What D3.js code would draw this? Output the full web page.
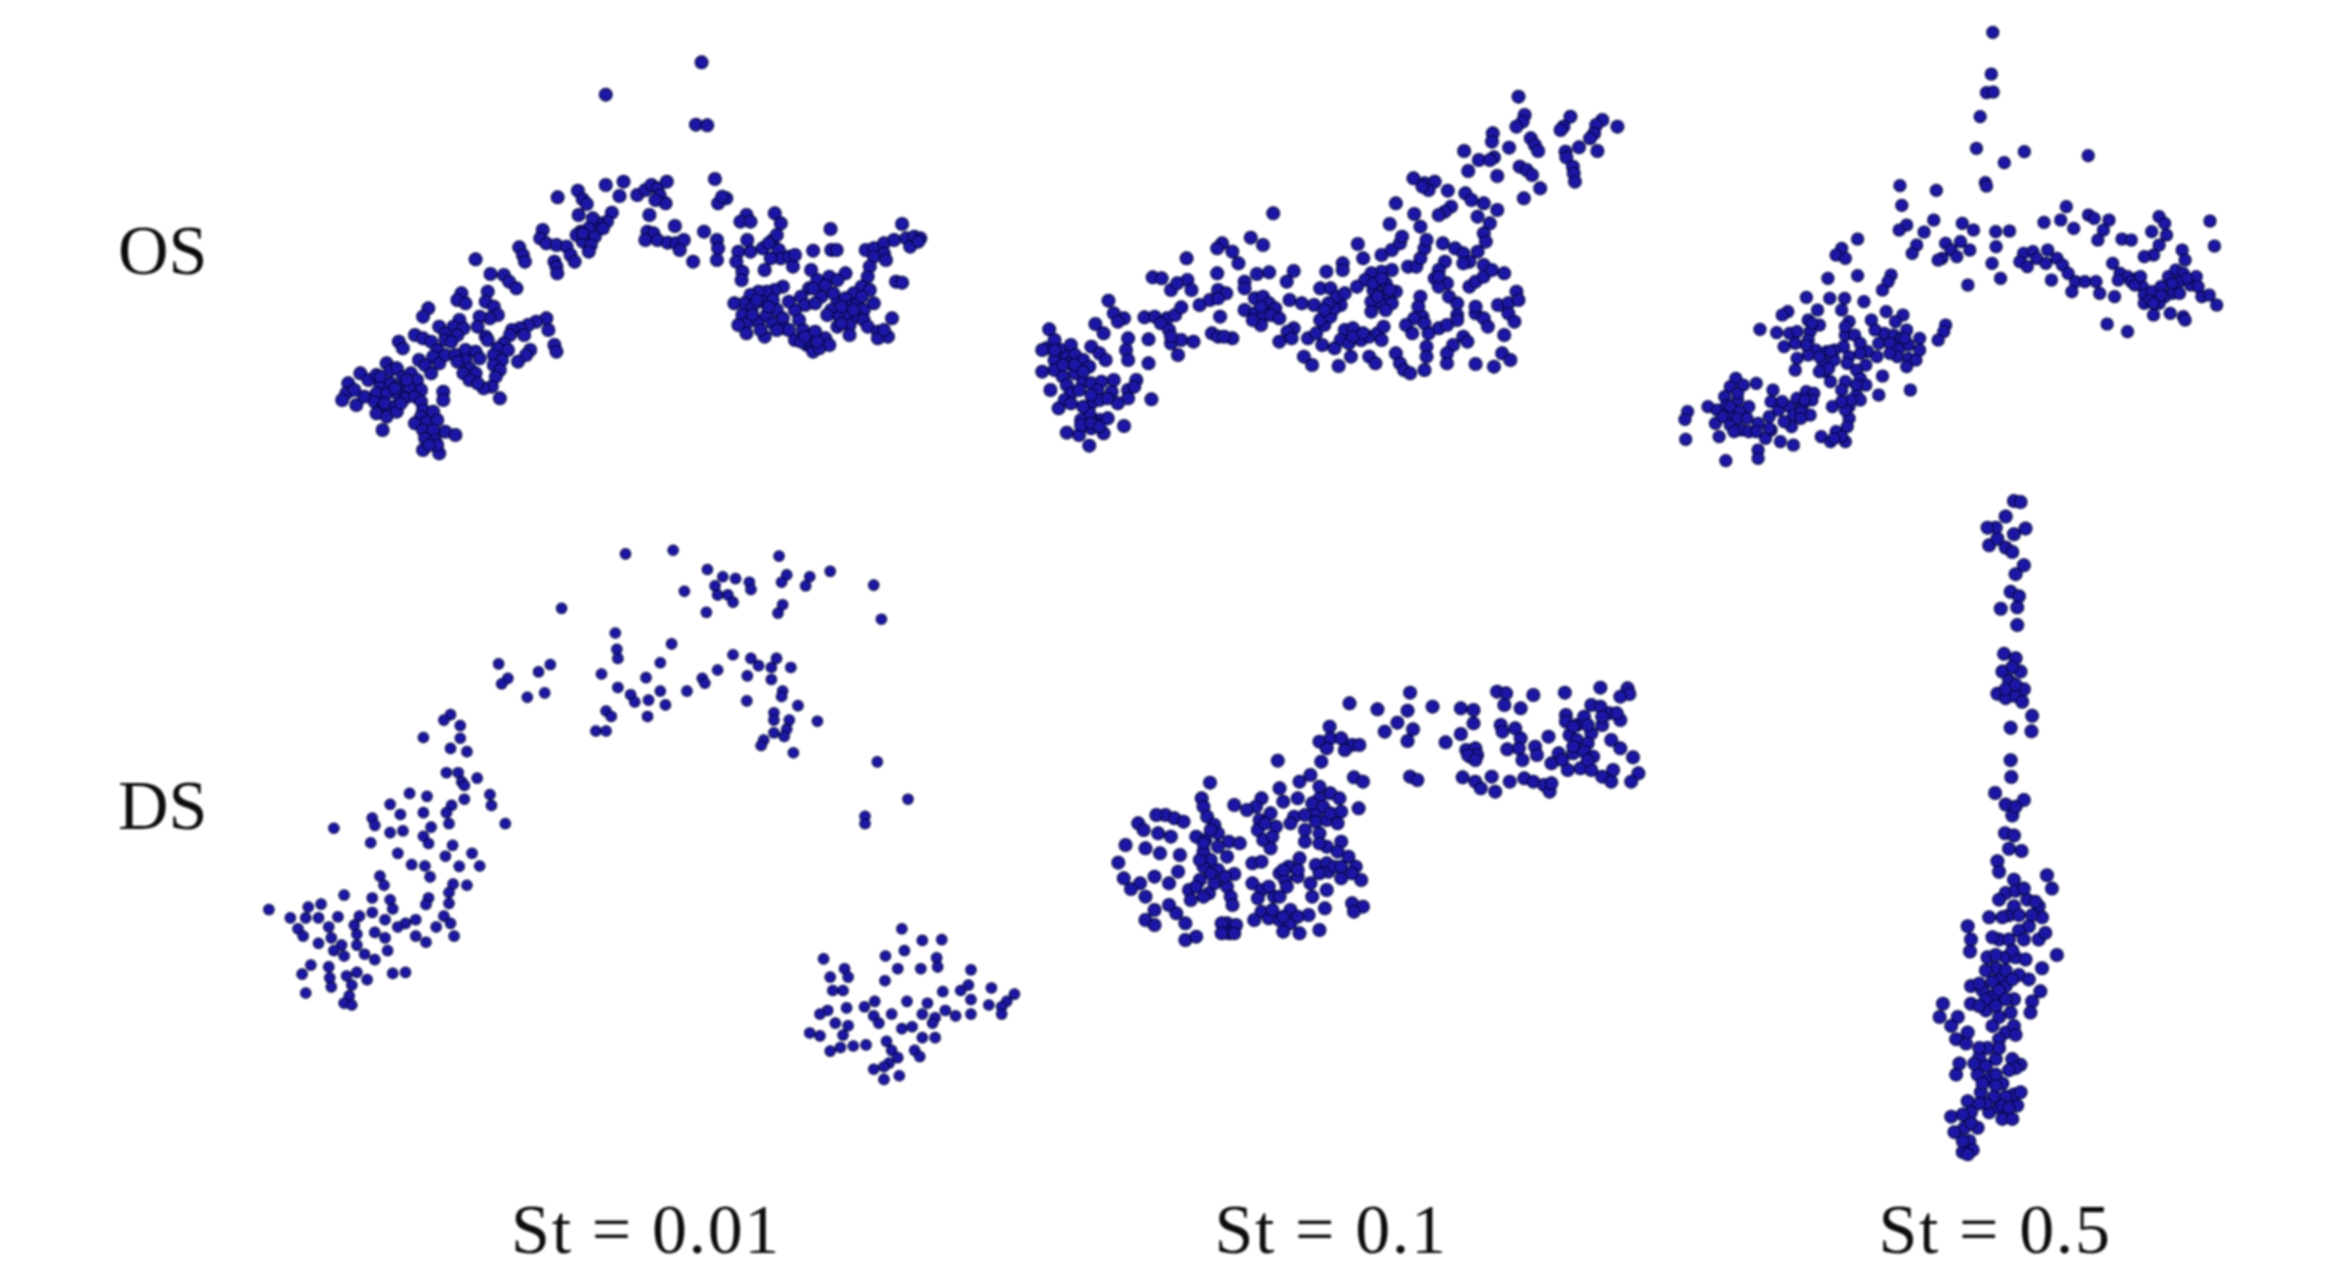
<!DOCTYPE html>
<html>
<head>
<meta charset="utf-8">
<title>St panels</title>
<style>
  html, body { margin: 0; background: #fff; }
  svg { display: block; }
  text { font-family: "Liberation Serif", serif; fill: #111; }
</style>
<script src="https://cdnjs.cloudflare.com/ajax/libs/d3/7.8.5/d3.min.js"></script>
</head>
<body>
<svg id="chart" width="2332" height="1282"></svg>
<script>
const rowLabels = ['OS', 'DS'];
const colLabels = ['St = 0.01', 'St = 0.1', 'St = 0.5'];

// particle positions, in picture units per panel
const os001 = [[934,67],[697,164],[920,254],[948,256],[967,417],[975,490],[995,475],[985,470],
[578,472],[628,452],[640,478],[650,492],[630,525],[697,435],[741,425],[731,468],[712,518],[700,545],[680,550],[665,535],[690,565],[655,565],[635,575],[625,585],[650,598],[670,590],[640,605],[660,615],[655,635],[640,580],
[541,570],[535,595],[550,610],[575,615],[600,620],[610,645],[620,665],[570,665],[575,680],[577,700],[483,622],[492,645],[497,665],[375,658],[412,702],[445,705],[458,725],[476,745],
[775,465],[795,450],[810,435],[825,445],[848,425],[830,465],[845,490],[820,480],[805,525],[868,558],[800,575],[815,580],[795,600],[825,600],[850,608],[870,610],[890,600],[880,630],[913,665],[940,575],[972,600],[975,625],[972,660],
[1045,525],[1030,545],[1055,545],[1115,520],[1130,550],[1253,567],[1430,552],[1210,632],[1255,630],[1268,630],
[1047,600],[1025,635],[1055,635],[1085,625],[1110,600],[1120,585],[1100,610],[1125,630],[1130,655],[1105,655],[1150,650],[1165,645],[1160,680],[1090,690],[1020,665],[1035,695],[1033,720],
[1340,630],[1360,625],[1385,610],[1410,600],[1440,595],[1460,590],[1475,595],[1450,620],[1470,605],[1385,640],[1390,660],[1360,650],[1350,680],[1205,690],[1415,725],[1430,728],
[1250,710],[1290,700],[1220,720],[1240,735],[1270,720],[1345,710],[1330,740],[1310,760],[1350,750],[1200,745],[1180,770],[1190,795],[1135,740],[1115,750],[1095,755],[1075,755],[1055,765],[1040,790],[1015,790],[1060,800],[1085,785],[1110,780],[1120,810],[1035,825],[1050,845],[1025,855],[1045,880],[1075,845],[1095,825],[1110,850],[1090,890],[1135,835],[1140,865],[1165,810],[1175,840],[1165,900],[1185,870],[1215,875],[1240,895],[1250,915],[1195,915],[1210,935],[1190,905],[1225,925],[1270,785],[1290,775],[1255,810],[1275,830],[1245,825],[1300,800],[1320,790],[1335,810],[1360,790],[1300,825],[1320,830],[1335,840],[1270,860],[1300,855],[1300,885],[1345,860],[1370,875],[1395,890],[1370,895],[1385,870],[1405,835],[1230,770],[1215,790],
[1070,780],[1100,800],[1060,825],[1080,870],[1120,870],[1150,870],[1180,905],[1150,785],[1260,760],[1280,800],[1310,810],[1280,850],[1330,770],[1210,745],[1190,890],[1220,905],
[258,805],[245,830],[340,760],[330,780],[350,790],[405,755],[400,785],[420,800],[430,825],[410,835],[385,830],[380,860],[400,890],[405,900],[335,840],[320,860],[345,865],[285,860],[300,880],[225,885],[245,895],[265,905],[185,905],[195,925],[280,930],[300,900],[330,885],[315,905],[270,950],[285,970],[300,945],
[550,835],[525,845],[505,855],[485,865],[465,870],[495,885],[460,885],[555,870],[445,910],[430,925],[420,945],[455,930],[570,915],[575,935],[510,930],[500,945],[480,965],[440,960],[420,975],[435,990],[425,1010],[415,1040],[395,1045],[435,1075],[325,945],[350,930],[375,935],[385,955],[350,960],[330,965],[360,985],[375,1000],[345,1000],[360,1020],[380,1030],
[60,1030],[90,1000],[55,1060],[75,1050],[45,1080],[80,1095],[100,1070],[110,1020],[130,1005],[155,970],[140,1035],[165,990],[180,985],[195,1010],[215,1000],[235,960],[250,975],[230,1020],[265,1000],[165,1030],[190,1045],[210,1040],[240,1050],[130,1060],[155,1060],[185,1065],[200,1075],[225,1070],[125,1085],[145,1100],[175,1100],[130,1120],[155,1130],[180,1115],[145,1170],
[140,1010],[205,1020],[175,1045],[150,1090],[190,1090],[260,1150],[250,1125],[265,1200],
[295,1055],[295,1080],[240,1085],[245,1110],[270,1115],[240,1130],[225,1150],[255,1145],[280,1140],[245,1170],[270,1170],[300,1175],[325,1185],[250,1195],[275,1200],[245,1230],[285,1240],[280,1215],[260,1215]];

const os01 = [[1195,80],[1210,135],[1205,155],[1190,170],[1322,140],[1305,170],[1298,180],[1400,150],[1385,165],[1437,170],[1380,190],[1370,205],[1132,190],[1130,215],[1172,233],[1225,205],[1235,225],[1243,243],[1062,243],[1098,270],[1135,262],[1125,270],[1343,232],[1310,245],[1312,262],[1388,243],[1072,303],[1143,318],[1198,290],[1215,300],[1228,315],[1328,290],[1330,310],[1333,335],[1248,355],[1208,385],
[938,325],[965,340],[990,335],[975,360],[960,350],[1022,362],[1065,370],[1080,390],[1110,400],[1143,420],[895,400],[1030,410],[1015,425],[1000,435],[940,432],[880,462],[955,470],[1095,440],[1125,460],[1110,490],[1115,515],[1095,545],
[595,430],[540,503],[570,525],[470,520],[458,535],[495,545],[510,580],[383,565],[300,622],[322,625],[458,610],[385,630],[395,660],[345,660],[360,640],[525,635],[525,655],[555,612],[585,607],[645,603],[628,635],[635,690],
[192,692],[205,730],[230,745],[215,755],[280,742],[305,740],[335,745],[355,735],[370,712],[320,760],[340,780],[415,705],[440,690],[460,660],[480,670],[460,685],[465,740],[445,790],[460,800],[495,805],[475,800],
[160,762],[180,790],[240,805],[235,840],[240,870],[290,808],[290,880],[345,820],[370,810],[400,815],[362,855],[345,800],
[47,778],[60,810],[40,835],[30,840],[100,825],[150,830],[170,850],[75,840],[90,860],[110,855],[60,870],[95,880],[130,870],[145,890],[185,870],[30,905],[60,900],[80,920],[110,910],[130,935],[150,940],[175,935],[205,930],[50,960],[90,945],[100,970],[120,960],[85,990],[70,1015],[165,960],[200,965],[240,960],[260,930],[255,950],[240,985],[215,1000],[150,1000],[170,990],[190,985],[297,988],[145,1030],[125,1050],[170,1050],[190,1045],[230,1068],[90,1088],[120,1095],[150,1075],[180,1090],[145,1127],[125,1065],[160,1060],
[60,840],[80,885],[110,885],[130,905],[150,975],[100,1000],[130,1010],[150,1060],[170,1070],
[550,685],[570,680],[585,700],[600,715],[525,720],[550,730],[570,740],[590,735],[610,745],[565,765],[545,750],[565,710],
[645,775],[630,785],[610,815],[640,805],[680,805],[700,790],[715,825],[670,860],[690,885],[665,700],[695,705],[710,655],[735,655],[720,765],[710,750],[735,740],[760,705],[750,680],[770,670],[725,605],[765,580],[765,600],[745,715],[770,780],[790,775],[760,810],[745,835],[780,820],[755,888],[785,860],[810,810],[830,800],[850,790],[865,770],[860,810],[830,860],[845,880],
[730,700],[720,720],[790,800],[815,790],
[802,522],[815,565],[860,555],[885,540],[905,520],[910,500],[925,590],[945,590],[955,565],[965,535],[970,510],[885,600],[860,605],[835,610],[820,630],[800,650],[850,635],[870,640],[895,665],[840,660],[865,675],[835,695],[860,700],[885,700],[835,725],
[840,640],[860,625],[880,660],[850,680],[870,720],
[1010,520],[1040,535],[1060,550],[1075,575],[1060,580],[1015,575],[1000,600],[990,625],[1020,640],[1000,650],[1025,680],[1045,700],[1075,650],[1090,635],[1110,620],[1110,585],[1130,600],[1160,610],[955,680],[950,710],[960,740],[940,745],[920,765],[935,790],[965,760],[1000,775],[975,790],[1045,735],[1045,750],[1020,765],[970,830],[970,860],[965,900],[895,850],[905,880],[915,900],[930,910],[1090,730],[1110,745],[1120,770],[1090,710],[1145,705],[1170,700],[1190,665],[1195,690],[1170,730],[1185,755],[1160,795],[1060,800],[1035,825],[1020,850],[1020,880],[1090,882],[1135,890],[1155,850],[1175,870],[1070,815],[1000,620]];

const os05 = [[837,67],[833,192],[820,248],[838,246],[803,320],[793,415],[922,425],[868,458],[1094,437],[817,518],[820,528],[587,527],[685,541],[592,586],[605,645],[585,660],[678,630],[652,666],[632,705],[620,730],[755,640],[785,660],[845,665],[882,663],[846,710],[835,760],[858,805],[770,825],[710,700],[725,720],[700,745],[690,750],[740,740],[750,695],[775,720],[975,637],[1035,590],[1020,630],[1055,655],[1095,615],[1110,625],[1150,630],[1135,660],[1120,690],[1185,687],[1210,690],[1285,620],[1300,640],[1265,665],[1305,675],[1285,705],[1270,735],[1245,740],[1422,633],[1434,708],[1347,720],[1355,750],
[920,730],[945,725],[985,720],[910,755],[930,770],[955,745],[980,760],[1010,745],[1025,765],[1040,790],[995,810],[1060,815],[1050,845],[1085,815],[1115,815],[1125,850],[1165,860],[1160,760],[1180,790],[1200,800],[1175,810],[1225,805],[1240,830],[1210,815],[1245,855],[1265,845],[1290,830],[1310,800],[1330,780],[1350,790],[1385,800],[1370,825],[1340,815],[1320,850],[1300,860],[1245,880],[1270,915],[1285,880],[1315,910],[1350,920],[1355,930],[1400,860],[1420,855],[1440,885],[1145,942],[1200,965],
[1220,825],[1260,870],[1290,855],[1320,820],[1360,805],[1340,850],[1235,800],[1390,830],[1270,880],
[473,687],[430,715],[415,735],[440,745],[393,805],[473,797],[563,795],[555,815],[540,840],[335,862],[398,865],[438,865],[490,875],[430,900],
[285,905],[270,915],[365,900],[340,930],[370,945],[450,935],[510,930],[550,905],[595,915],[575,935],[210,958],[255,968],[290,970],[345,965],[340,990],[275,1010],[305,1000],[440,975],[465,975],[545,970],[570,975],[605,960],[640,985],[710,945],[705,965],[690,990],
[480,1000],[435,1010],[410,1020],[390,1025],[360,1020],[340,1035],[310,1045],[305,1080],[380,1060],[410,1050],[500,1025],[525,1040],[560,1000],[585,1015],[610,1005],[580,1040],[610,1045],[630,1050],[605,1070],[385,1085],[400,1115],[495,1065],[470,1080],[480,1105],[495,1125],[440,1115],[430,1140],[540,1098],[615,1140],[530,1155],[470,1155],[480,1170],[450,1190],[405,1190],[450,1225],[445,1250],
[400,1025],[370,1040],[335,1005],[395,1075],[370,1085],[450,1040],[480,1030],[445,1060],[520,960],[530,1000],[560,1030],[590,985],[600,985],[640,1020],[470,1125],[455,1170],[440,1200],[430,1175],[350,940],[310,965],[440,950],
[145,1105],[130,1130],[165,1125],[200,1120],[115,1160],[150,1170],[180,1190],[245,1140],[240,1175],[70,1190],[95,1200],[125,1210],[90,1240],[130,1245],[100,1280],[160,1260],[180,1265],[205,1240],[235,1220],[260,1200],[290,1190],[310,1165],[335,1145],[355,1150],[325,1185],[350,1170],[300,1215],[345,1215],[295,1250],[240,1260],[225,1285],[265,1295],[300,1305],[205,1320],[205,1345],[118,1352],[235,1255],
[150,1150],[120,1185],[130,1190],[155,1205],[110,1220],[150,1225],[175,1225],[200,1265],[140,1265],[275,1235],[320,1205],[270,1175],[330,1170],[320,1225],
[415,1265],[375,1280],[400,1295],[440,1295],[430,1280],[410,1285],[15,1205],[8,1228],[10,1288]];

const ds001 = [[730,52],[823,42],[1030,58],[890,95],[1130,100],[1215,138],[1230,232],[845,155],[905,140],[920,115],[945,120],[972,130],[975,150],[910,165],[930,165],[940,185],[888,213],[1045,110],[1035,130],[1090,115],[1082,140],[1037,192],[1028,215],
[605,202],[710,270],[713,315],[715,340],[820,300],[798,352],[940,330],[975,340],[990,360],[1025,340],[1015,365],[1053,365],[968,388],[1015,398],[1037,430],[1035,445],[910,372],[880,395],[885,408],[850,430],[683,383],[770,393],[715,420],[740,440],[748,460],[775,455],[798,430],[808,468],[773,500],[692,485],[702,500],[672,540],[692,540],[967,457],[1067,470],[1020,490],[1020,510],[1050,510],[1105,513],[1045,535],[1020,545],[1040,555],[1000,565],[995,580],[1058,600],
[482,355],[500,395],[488,410],[583,357],[560,377],[572,435],[538,447],
[1222,625],[1282,728],[1198,775],[1198,795],
[388,495],[375,510],[407,525],[335,558],[407,560],[388,588],[420,597],[380,655],[403,655],[410,680],[440,670],[415,690],[465,715],[468,745],[415,728],[308,712],[342,720],[270,742],[390,745],[380,765],[335,765],[290,770],[235,780],[240,800],[495,795],[160,808],[385,795],[350,805],[295,815],[270,820],[335,830],[345,850],[232,848],[392,855],[285,877],[378,885],[430,877],[312,908],[338,912],[405,913],[445,912],[348,942],[250,940],[258,965],[393,962],[420,965],[180,992],[385,985],[345,1000],[340,1018],[235,1000],[385,1015],
[33,1032],[110,1025],[135,1017],[75,1055],[105,1055],[130,1055],[90,1085],[100,1105],[168,1052],[150,1080],[270,1005],[275,1030],[210,1050],[235,1040],[200,1075],[260,1060],[320,1060],[300,1070],[285,1080],[375,1050],[388,1070],[360,1080],[395,1105],[320,1105],[340,1122],[240,1095],[205,1100],[260,1110],[130,1125],[155,1110],[175,1130],[160,1145],[180,1160],[205,1130],[240,1170],[220,1155],[265,1145],[115,1185],[98,1210],[150,1190],[152,1220],[155,1245],[185,1215],[205,1205],[225,1225],[195,1240],[275,1208],[300,1205],[105,1262],[190,1270],[180,1290],[195,1295],
[1270,1085],[1310,1117],[1348,1115],[1275,1145],[1238,1160],[1117,1168],[1338,1165],[1340,1190],[1158,1195],[1262,1195],[1307,1195],[1405,1198],[1130,1218],[1165,1218],[1237,1228],[1135,1255],[1155,1255],[1350,1258],[1400,1240],[1385,1255],[1445,1248],[1490,1265],[1475,1285],[1405,1280],[1465,1300],[1440,1295],[1465,1320],[1405,1320],[1280,1285],[1217,1285],[1197,1300],[1320,1290],[1162,1303],[1125,1310],[1110,1320],[1215,1325],[1250,1320],[1310,1320],[1355,1310],[1375,1325],[1335,1330],[1140,1345],[1225,1345],[1270,1360],[1290,1355],[1330,1345],[1165,1352],[1155,1378],[1090,1372],[1110,1380],[1310,1385],[1335,1385],[1240,1395],[1200,1405],[1175,1408],[1150,1412],[1130,1422],[1250,1420],[1295,1420],[1305,1437],[1262,1440],[1245,1455],[1215,1472],[1235,1465],[1265,1490],[1235,1500]];

const ds01 = [[850,68],[683,100],[760,118],[843,122],[912,110],[815,158],[780,185],[858,178],[843,213],[628,170],[990,115],[1025,120],[1025,160],[990,192],[948,217],[1090,65],[1115,70],[1110,105],[1190,75],[1155,115],[1277,68],[1375,53],[1450,55],[1455,72],[1430,80],
[600,215],[630,205],[660,205],[690,225],[710,225],[670,240],[620,235],[605,275],[485,272],[1005,240],[1030,235],[1015,260],[1035,255],[1100,165],[1105,185],[1140,175],[1155,205],[1118,238],[1150,235],[1195,230],[1200,255],[1160,270],[1232,200],[1280,135],[1280,155],[1310,165],[1330,140],[1350,105],[1375,110],[1400,130],[1430,150],[1380,165],[1350,190],[1290,195],[1310,210],[1340,220],[1405,210],[1430,235],[1465,262],[1260,250],[1240,280],[1300,250],[1330,245],[1355,260],[1285,300],[1320,295],[1350,300],[1380,320],[1410,300],[1405,335],[1480,310],[1460,335],
[1300,170],[1340,165],[1300,230],[1270,270],[1340,270],[1380,140],[1420,130],[1010,255],[1030,270],
[995,322],[1030,335],[1045,355],[1075,320],[1085,365],[1125,335],[1165,325],[1190,335],[1220,345],[1235,365],[1240,340],[850,320],[870,330],[695,322],[720,335],[708,415],
[298,338],[575,315],[545,335],[600,350],[490,355],[500,395],[540,385],[440,385],[365,405],[275,385],[280,410],[600,385],[630,370],[655,385],[660,425],[590,425],[425,410],[465,430],[435,450],[530,440],[560,435],[590,455],[520,460],[560,480],[620,450],[650,460],[290,440],[310,465],[175,435],[200,445],[225,455],[150,435],[100,460],[115,480],[155,490],[190,500],[260,500],[285,510],[320,490],[350,515],[380,520],[430,480],[480,470],[445,510],[465,535],[560,515],[600,490],[660,515],[620,530],[650,545],[65,525],[120,535],[160,550],[215,555],[45,578],[280,545],[300,570],[345,560],[415,580],[440,575],[545,565],[590,585],[620,580],[680,560],[700,590],[515,590],[490,610],[210,605],[280,590],[320,600],[365,612],[60,625],[105,640],[145,620],[185,640],[80,657],[120,680],[270,630],[310,640],[240,660],[345,650],[355,680],[295,670],[415,640],[440,660],[475,680],[505,630],[540,620],[575,640],[625,605],[660,625],[715,630],[620,660],[430,685],[360,705],[245,690],[580,680],[690,700],[720,710],[695,725],[145,720],[185,705],[205,730],[120,750],[145,765],[230,760],[230,810],[260,800],[345,760],[370,765],[350,790],[615,715],[570,735],[520,720],[440,725],[460,745],[420,750],[490,750],[520,760],[500,785],[545,790],[600,780],
[300,480],[280,520],[270,570],[320,530],[300,610],[260,650],[280,680],[340,620],[500,600],[540,600],[600,610],[640,590],[660,590],[690,610],[460,650],[490,680],[510,650],[450,460],[470,500],[400,420],[580,400],[610,410],[630,430],[600,520],[330,760],[365,790],[330,790],[500,740],[540,740],[470,720]];

const ds05 = [[345,25],[365,27],[320,60],[290,85],[265,85],[380,87],[345,100],[270,125],[320,130],[295,110],[340,140],[375,170],[350,190],[335,230],[360,240],[305,268],[355,265],[355,305],
[315,370],[350,380],[310,410],[365,410],[330,430],[295,460],[320,470],[375,450],[350,465],[370,478],[340,400],[320,450],[350,440],[400,510],[335,537],[398,545],[335,610],[337,648],[288,684],[375,700],[320,710],[340,735],[350,715],[318,775],[345,780],[330,810],[368,815],[295,838],[300,862],
[345,880],[445,870],[460,900],[320,910],[300,925],[350,905],[385,925],[420,940],[270,965],[330,960],[430,965],[390,985],[360,995],[205,985],[215,1015],[212,1042],[300,1015],[330,1015],[375,1015],[420,1015],[265,1055],[320,1055],[350,1055],[475,1050],[430,1080],[290,1080],[300,1105],[360,1095],[390,1105],[215,1120],[250,1130],[320,1120],[425,1132],[285,1140],[345,1150],[400,1155],[130,1160],[215,1160],[260,1175],[395,1180],[120,1190],[175,1190],[155,1210],[205,1225],[300,1190],[320,1225],[345,1210],[170,1240],[200,1250],[265,1260],[240,1280],[290,1285],[340,1285],[365,1298],[180,1295],[170,1320],[235,1320],[270,1330],[350,1305],[310,1340],[245,1360],[285,1370],[345,1365],[205,1380],[355,1390],[215,1405],[270,1405],[310,1420],[155,1415],[340,1420],[195,1440],[235,1440],[165,1450],[210,1470],[190,1495],[220,1490],[205,1500],
[375,900],[410,930],[345,940],[310,965],[360,960],[400,960],[440,1000],[280,1010],[340,1040],[290,1050],[380,1060],[260,1085],[320,1085],[340,1105],[280,1110],[240,1115],[300,1130],[260,1150],[320,1150],[240,1165],[290,1165],[335,1180],[280,1210],[300,1240],[350,1230],[240,1260],[300,1260],[260,1300],[330,1310],[225,1295],[250,1340],[290,1320],[320,1370],[260,1385],[240,1385],[300,1395],[190,1410],[215,1430],[190,1470],[365,1360],[310,1390],[330,1395],[290,1345]];

// panel frames: picture units -> page pixels
const panels = [
  { pts: os001, dx: [0, 1546], rx: [324, 949], dy: [0, 1320], ry: [40, 480], r: 7 },
  { pts: os01,  dx: [0, 1546], rx: [1030, 1662], dy: [0, 1200], ry: [70, 470], r: 7 },
  { pts: os05,  dx: [0, 1554], rx: [1682, 2259], dy: [0, 1410], ry: [10, 480], r: 6.6 },
  { pts: ds001, dx: [0, 1538], rx: [252, 1039], dy: [0, 1543], ry: [535, 1095], r: 5.8 },
  { pts: ds01,  dx: [0, 1545], rx: [1102, 1662], dy: [0, 900], ry: [670, 970], r: 7 },
  { pts: ds05,  dx: [0, 660], rx: [1900, 2118], dy: [0, 1558], ry: [490, 1180], r: 7 }
];

const svg = d3.select('#chart');

const defs = svg.append('defs');
defs.append('filter').attr('id', 'soft')
  .append('feGaussianBlur').attr('stdDeviation', 0.8);

const dots = svg.append('g').attr('filter', 'url(#soft)');

panels.forEach(p => {
  const x = d3.scaleLinear().domain(p.dx).range(p.rx);
  const y = d3.scaleLinear().domain(p.dy).range(p.ry);
  dots.append('g').selectAll('circle')
    .data(p.pts)
    .enter()
    .append('circle')
    .attr('cx', d => x(d[0]))
    .attr('cy', d => y(d[1]))
    .attr('r', p.r - 0.9)
    .attr('fill', '#1c18a8')
    .attr('stroke', '#0b0a55')
    .attr('stroke-width', 1.8);
});

const labels = svg.append('g').attr('filter', 'url(#soft)');

const rowY = d3.scaleOrdinal().domain(rowLabels).range([274, 829]);
labels.selectAll('.row')
  .data(rowLabels)
  .enter()
  .append('text')
  .attr('class', 'row')
  .attr('x', 118)
  .attr('y', d => rowY(d))
  .attr('font-size', 70)
  .text(d => d);

const colX = d3.scaleOrdinal().domain(colLabels).range([646, 1331, 1995]);
labels.selectAll('.col')
  .data(colLabels)
  .enter()
  .append('text')
  .attr('class', 'col')
  .attr('x', d => colX(d))
  .attr('y', 1253)
  .attr('text-anchor', 'middle')
  .attr('font-size', 70)
  .attr('letter-spacing', 1.6)
  .text(d => d);
</script>
</body>
</html>
